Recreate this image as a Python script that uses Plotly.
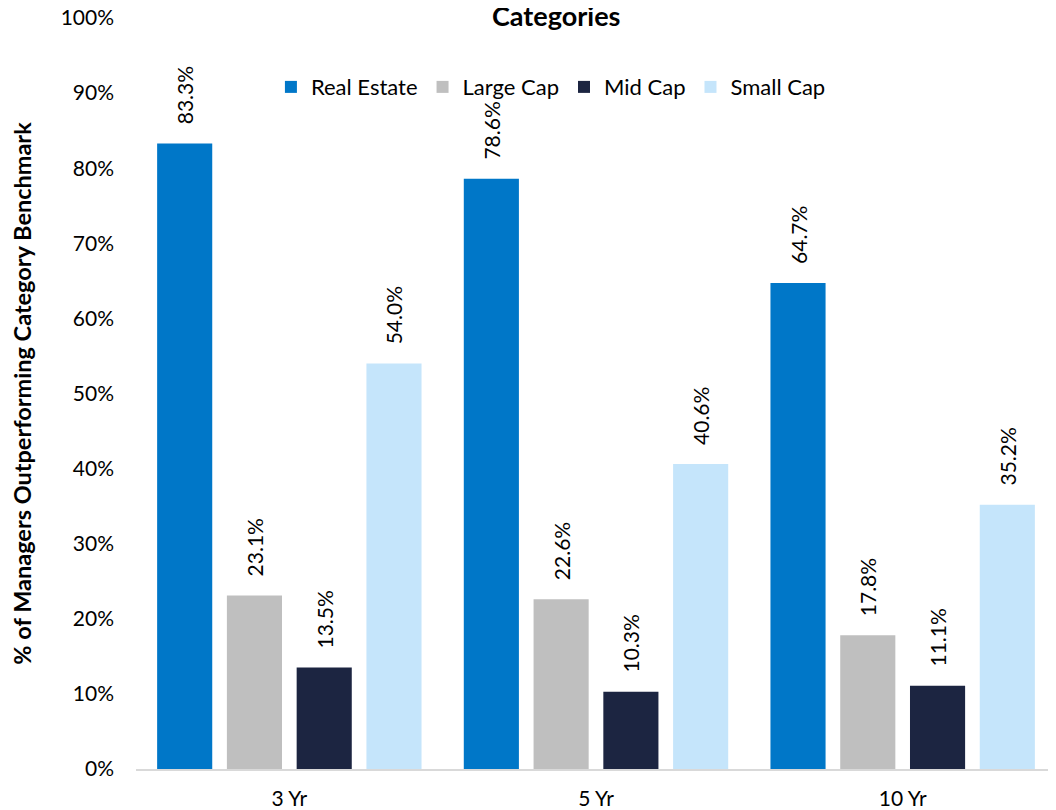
import plotly.graph_objects as go

categories = ["3 Yr", "5 Yr", "10 Yr"]
real_estate = [83.3, 78.6, 64.7]
large_cap = [23.1, 22.6, 17.8]
mid_cap = [13.5, 10.3, 11.1]
small_cap = [54.0, 40.6, 35.2]

series = [
    ("Real Estate", real_estate, "#0077C8"),
    ("Large Cap", large_cap, "#BFBFBF"),
    ("Mid Cap", mid_cap, "#1C2541"),
    ("Small Cap", small_cap, "#C5E5FB"),
]

FONT = "Lato"
PAD = "\u00a0\u00a0\u00a0"
fig = go.Figure()
for name, vals, color in series:
    fig.add_trace(go.Bar(
        name=name, x=categories, y=vals,
        marker=dict(color=color, line=dict(width=0)),
        text=[f"{PAD}{v:.1f}%" for v in vals],
        textposition="outside", textangle=-90, constraintext="none",
        textfont=dict(family=FONT, size=21, color="#000000"),
        cliponaxis=False,
    ))

fig.update_layout(
    width=1048, height=802,
    barmode="group", bargap=0.09, bargroupgap=0.21,
    paper_bgcolor="white", plot_bgcolor="white",
    margin=dict(l=128, r=0, t=10, b=41, autoexpand=False),
    font=dict(family=FONT, size=21, color="#000000"),
    showlegend=True,
    legend=dict(orientation="h", x=0.451, xanchor="center", y=0.908, yanchor="middle",
                font=dict(family=FONT, size=22), itemwidth=30, traceorder="normal",
                bgcolor="rgba(0,0,0,0)"),
    xaxis=dict(showline=True, linecolor="#D9D9D9", linewidth=2, ticks="",
               tickfont=dict(family=FONT, size=21), showgrid=False,
               ticklabelstandoff=10, ticklabeloverflow="allow"),
    yaxis=dict(range=[0, 100], dtick=10, ticksuffix="%", showgrid=False, zeroline=False,
               showline=False, ticks="", tickfont=dict(family=FONT, size=21),
               ticklabelstandoff=21, ticklabeloverflow="allow",
               title=dict(text="<b>% of Managers Outperforming Category Benchmark</b>",
                          font=dict(family=FONT, size=23.5), standoff=36)),
    annotations=[dict(text="<b>Categories</b>", xref="paper", yref="paper",
                      x=0.457, y=1.003, xanchor="center", yanchor="middle", showarrow=False,
                      font=dict(family=FONT, size=27))],
)

fig.write_html("out.html")
